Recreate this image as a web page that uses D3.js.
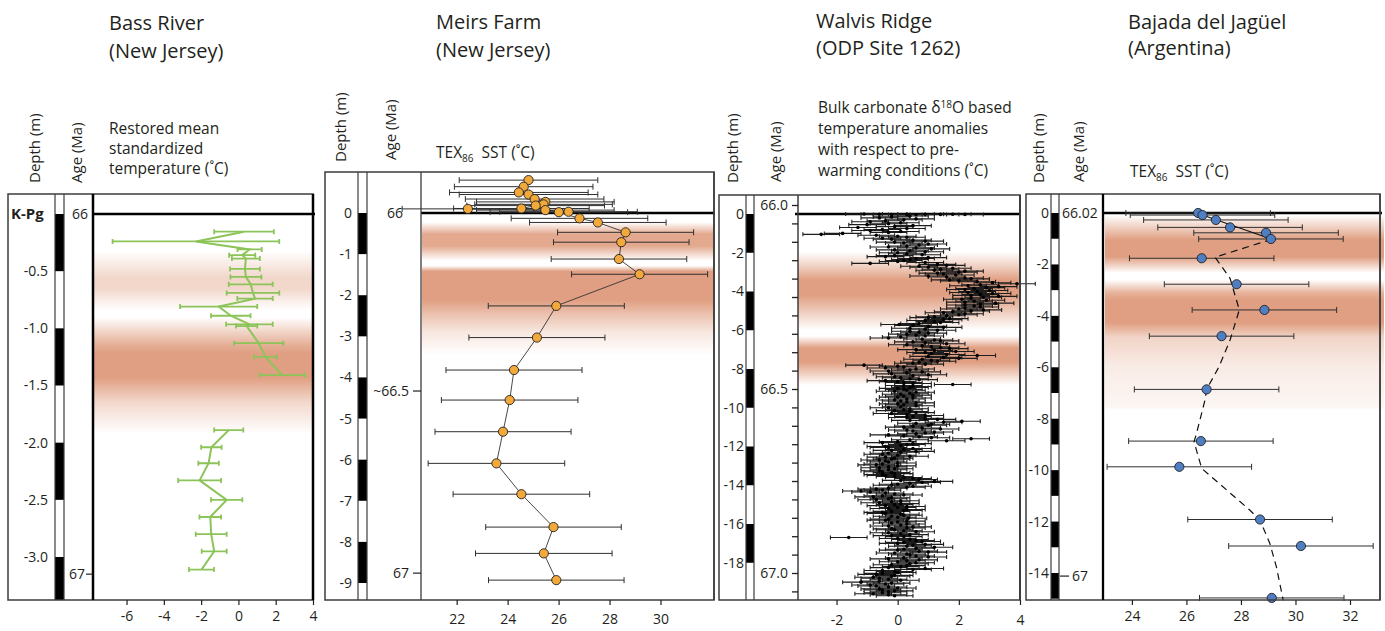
<!DOCTYPE html>
<html>
<head>
<meta charset="utf-8">
<script src="https://cdn.jsdelivr.net/npm/d3@7"></script>
<style>
  body { margin: 0; background: #fff; }
  svg text { font-family: "Open Sans", "DejaVu Sans", sans-serif; fill: #231f20; }
</style>
</head>
<body>
<svg id="chart" width="1385" height="631"></svg>
<script>
// ---------------- data ----------------

// Bass River (New Jersey)
const bassDepthTicks = [-0.5, -1.0, -1.5, -2.0, -2.5, -3.0];
const bassTempTicks = [-6, -4, -2, 0, 2, 4];
const bassAges = [[0, "66"], [-3.15, "67"]];
// [depth m, restored mean standardized temperature °C, ± error]
const bassUpper = [
  [-0.155, 0.3, 1.6], [-0.24, -2.28, 4.47], [-0.31, 0.6, 0.65], [-0.36, 0.2, 0.7],
  [-0.39, 0.4, 0.75], [-0.48, 0.35, 0.8], [-0.55, 0.4, 0.83], [-0.615, 0.66, 1.18],
  [-0.69, 0.78, 1.41], [-0.74, 0.89, 0.95], [-0.81, -1.06, 2.07], [-0.89, -0.41, 1.06],
  [-0.965, 0.59, 1.25], [-0.98, 0.44, 0.57], [-1.13, 1.09, 1.32], [-1.25, 1.45, 0.61],
  [-1.41, 2.35, 1.22]
];
const bassLower = [
  [-1.89, -0.52, 0.78], [-2.04, -1.45, 0.55], [-2.18, -1.6, 0.55], [-2.33, -2.08, 1.15],
  [-2.50, -0.63, 0.84], [-2.65, -1.51, 0.58], [-2.80, -1.46, 0.83], [-2.95, -1.3, 0.67],
  [-3.11, -1.98, 0.67]
];
// warming intervals as [depth, intensity] profiles
const bassBands = [
  [[-0.32, 0], [-0.56, 0.42], [-0.65, 0.42], [-0.84, 0]],
  [[-0.9, 0], [-1.15, 0.85], [-1.22, 1], [-1.43, 1], [-1.65, 0.4], [-1.92, 0]]
];

// Meirs Farm (New Jersey)
const meirsDepthTicks = [0, -1, -2, -3, -4, -5, -6, -7, -8, -9];
const meirsTempTicks = [22, 24, 26, 28, 30];
const meirsAges = [[0, "66"], [-4.33, "~66.5"], [-8.76, "67"]];
// [depth m, TEX86 SST °C, ± error]
const meirsSST = [
  [0.80, 24.82, 2.72], [0.64, 24.63, 2.72], [0.50, 24.44, 2.72], [0.45, 24.82, 2.72],
  [0.34, 25.06, 2.72], [0.27, 25.48, 2.7], [0.21, 25.41, 2.7], [0.18, 25.10, 2.7],
  [0.11, 24.54, 2.66], [0.10, 22.44, 2.58], [0.07, 25.48, 2.7], [0.02, 26.01, 2.7],
  [0.03, 26.39, 2.7], [-0.13, 26.82, 2.68], [-0.23, 27.54, 2.68], [-0.47, 28.63, 2.67],
  [-0.71, 28.46, 2.66], [-1.12, 28.37, 2.66], [-1.49, 29.18, 2.67], [-2.26, 25.91, 2.67],
  [-3.03, 25.15, 2.67], [-3.82, 24.25, 2.67], [-4.55, 24.08, 2.68], [-5.32, 23.82, 2.67],
  [-6.09, 23.56, 2.68], [-6.84, 24.54, 2.68], [-7.64, 25.80, 2.66], [-8.28, 25.42, 2.68],
  [-8.93, 25.91, 2.66]
];
const meirsBands = [
  [[-0.22, 0], [-0.52, 0.9], [-0.8, 0.9], [-1.16, 0]],
  [[-1.28, 0], [-1.42, 1], [-2.12, 1], [-2.45, 0.65], [-2.9, 0.25], [-3.45, 0]]
];

// Walvis Ridge (ODP Site 1262)
const walvisDepthTicks = [0, -2, -4, -6, -8, -10, -12, -14, -16, -18];
const walvisTempTicks = [-2, 0, 2, 4];
const walvisAgeLabels = [66.0, 66.5, 67.0];
const walvisErr = 0.6;
// [depth m, bulk carbonate δ18O temperature anomaly °C]
const walvisAnomaly = [
  [0, -1.1], [-0.01, -0.6], [-0.02, 0.3], [-0.01, 0.9], [-0.02, 1.4], [-0.01, 1.8], [-0.02, 2.2], [-0.03, -0.2], [-0.04, 0.6],
  [-0.1, 0.4], [-0.2, -0.6], [-0.3, 0.2], [-0.4, -0.9], [-0.5, -0.3], [-0.6, 0.5], [-0.7, -1.3], [-0.8, -0.5], [-0.9, 0.1],
  [-1.0, -1.8], [-1.05, -2.5], [-1.1, -0.7], [-1.2, 0.3], [-1.3, -0.2], [-1.4, 0.9], [-1.5, 0.2], [-1.6, 0.7], [-1.7, -0.3],
  [-1.8, 1.1], [-1.9, 0.4], [-2.0, 0.0], [-2.1, 0.8], [-2.2, -0.4], [-2.3, 0.6], [-2.4, 0.2], [-2.5, 0.9], [-2.55, -0.9],
  [-2.6, 1.3], [-2.7, 0.7], [-2.8, 1.8], [-2.9, 1.2], [-3.0, 2.0], [-3.1, 1.5], [-3.2, 1.0], [-3.3, 2.2], [-3.4, 1.7],
  [-3.5, 2.6], [-3.55, 3.1], [-3.6, 3.9], [-3.7, 2.3], [-3.8, 2.9], [-3.9, 2.2], [-4.0, 2.6], [-4.1, 3.1], [-4.2, 2.4],
  [-4.3, 2.8], [-4.4, 2.1], [-4.5, 2.5], [-4.6, 3.2], [-4.7, 2.2], [-4.8, 2.7], [-4.9, 2.0], [-5.0, 2.4],
  [-5.1, 1.5], [-5.2, 2.0], [-5.3, 1.2], [-5.4, 1.7], [-5.5, 0.9], [-5.6, 1.4], [-5.7, 0.05], [-5.8, 1.0], [-5.9, 0.4],
  [-6.0, 1.3], [-6.1, 0.7], [-6.2, 0.3], [-6.3, 0.9], [-6.4, -0.3], [-6.5, 1.2], [-6.6, 0.5], [-6.7, 1.6], [-6.8, 0.8],
  [-6.9, 1.4], [-7.0, 0.6], [-7.1, 1.9], [-7.2, 1.1], [-7.3, 2.6], [-7.4, 1.5], [-7.5, 0.8], [-7.6, 1.3], [-7.7, 0.5],
  [-7.8, -1.1], [-7.9, 0.2], [-8.0, 0.6], [-8.1, -0.3], [-8.2, 0.3], [-8.3, 1.0], [-8.4, -0.1], [-8.5, 0.4], [-8.6, -0.4],
  [-8.7, 0.2], [-8.8, 1.8], [-8.9, 0.5], [-9.0, 0.0], [-9.1, 0.3], [-9.2, 0.6], [-9.3, 0.1], [-9.4, 0.2], [-9.5, 0.5],
  [-9.6, -0.1], [-9.7, 0.3], [-9.8, 0.0], [-9.9, 0.6], [-10.0, -0.3], [-10.1, 0.2], [-10.2, 0.4], [-10.3, -0.2],
  [-10.4, 0.9], [-10.5, 0.3], [-10.6, 1.3], [-10.7, 2.1], [-10.8, 0.6], [-10.9, 1.0], [-11.0, 0.2], [-11.1, 1.4],
  [-11.2, 0.5], [-11.3, 0.9], [-11.4, -0.3], [-11.5, 0.7], [-11.6, 2.4], [-11.7, 1.6], [-11.8, -0.5], [-11.9, 0.3],
  [-12.0, -0.4], [-12.1, 0.5], [-12.2, -0.2], [-12.3, 0.1], [-12.4, -0.5], [-12.5, 0.4], [-12.6, -0.1], [-12.7, -0.6],
  [-12.8, -0.3], [-12.9, -0.5], [-13.0, 0.0], [-13.1, -0.6], [-13.2, -0.3], [-13.3, -0.5], [-13.4, -0.1], [-13.5, -0.4],
  [-13.6, 0.2], [-13.7, 0.7], [-13.8, 1.2], [-13.9, 0.4], [-14.0, -0.2], [-14.1, 0.3], [-14.2, -0.7], [-14.3, -1.2],
  [-14.4, -0.4], [-14.5, 0.2], [-14.6, -0.8], [-14.7, -0.3], [-14.8, 0.1], [-14.9, -0.6], [-15.0, -0.1], [-15.1, 0.3],
  [-15.2, -0.3], [-15.3, 0.2], [-15.4, -0.5], [-15.5, 0.1], [-15.6, -0.2], [-15.7, 0.35], [-15.8, -0.4], [-15.9, 0.0],
  [-16.0, 0.3], [-16.1, -0.3], [-16.2, 0.3], [-16.3, -0.1], [-16.4, 0.6], [-16.5, 0.1], [-16.6, -0.2], [-16.7, -1.6],
  [-16.8, 0.4], [-16.9, 0.8], [-17.0, 0.0], [-17.1, 0.5], [-17.2, 1.2], [-17.3, 0.2], [-17.4, 0.7], [-17.5, -0.1],
  [-17.6, 0.4], [-17.7, 1.0], [-17.8, -0.3], [-17.9, 0.3], [-18.0, 0.6], [-18.1, -0.2], [-18.2, 0.1], [-18.3, 0.9],
  [-18.4, -0.5], [-18.5, 0.0], [-18.6, -0.7], [-18.7, -0.2], [-18.8, -0.6], [-18.9, 0.1], [-19.0, -1.2], [-19.1, -0.4],
  [-19.2, -0.7], [-19.3, 0.0], [-19.4, -0.5], [-19.5, -0.3], [-19.6, -0.8], [-19.7, -0.1],
  // samples between the ones above
  [-0.15, -0.2], [-0.25, 0.6], [-0.35, -0.4], [-0.45, 0.1], [-0.55, -1.0], [-0.65, -0.1], [-0.75, 0.3], [-0.85, -0.9],
  [-0.95, -0.3], [-1.15, 0.0], [-1.25, -0.5], [-1.35, 0.5], [-1.45, -0.1], [-1.55, 1.0], [-1.65, 0.3], [-1.75, 0.6],
  [-1.85, -0.1], [-1.95, 0.9], [-2.05, 0.3], [-2.15, -0.1], [-2.25, 1.0], [-2.35, 0.4], [-2.45, 0.0], [-2.65, 1.6],
  [-2.75, 1.0], [-2.85, 1.4], [-2.95, 2.2], [-3.05, 1.3], [-3.15, 1.9], [-3.25, 1.6], [-3.35, 2.4], [-3.45, 2.0],
  [-3.65, 2.7], [-3.75, 3.3], [-3.85, 2.5], [-3.95, 3.0], [-4.05, 2.3], [-4.15, 2.7], [-4.25, 3.3], [-4.35, 2.4],
  [-4.45, 2.9], [-4.55, 2.2], [-4.65, 2.7], [-4.75, 2.5], [-4.85, 2.2], [-4.95, 2.8], [-5.05, 1.8], [-5.15, 2.2],
  [-5.25, 1.6], [-5.35, 1.0], [-5.45, 1.5], [-5.55, 1.2], [-5.65, 0.7], [-5.75, 0.5], [-5.85, 1.5], [-5.95, 0.9],
  [-6.05, 0.4], [-6.15, 1.0], [-6.25, 0.6], [-6.35, 0.1], [-6.45, 0.8], [-6.55, 1.4], [-6.65, 0.9], [-6.75, 0.3],
  [-6.85, 1.1], [-6.95, 1.7], [-7.05, 1.2], [-7.15, 0.9], [-7.25, 1.6], [-7.35, 1.0], [-7.45, 2.0], [-7.55, 1.1],
  [-7.65, 0.7], [-7.75, 0.9], [-7.85, 0.0], [-7.95, -0.4], [-8.05, 0.4], [-8.15, 0.8], [-8.25, -0.2], [-8.35, 0.5],
  [-8.45, 0.1], [-8.55, 0.7], [-8.65, 0.0], [-8.75, 0.5], [-8.85, 0.2], [-8.95, 0.4], [-9.05, 0.2], [-9.15, -0.1],
  [-9.25, 0.4], [-9.35, 0.5], [-9.45, 0.0], [-9.55, 0.3], [-9.65, 0.1], [-9.75, 0.6], [-9.85, 0.2], [-9.95, 0.1],
  [-10.05, 0.4], [-10.15, -0.1], [-10.25, 0.6], [-10.35, 0.3], [-10.45, 0.5], [-10.55, 0.9], [-10.65, 0.4], [-10.75, 1.5],
  [-10.85, 1.1], [-10.95, 0.5], [-11.05, 0.8], [-11.15, 0.3], [-11.25, 1.2], [-11.35, 0.6], [-11.45, 0.2], [-11.55, 1.1],
  [-11.65, 0.4], [-11.75, 0.0], [-11.85, 0.5], [-11.95, 0.1], [-12.05, -0.3], [-12.15, 0.2], [-12.25, 0.6], [-12.35, -0.3],
  [-12.45, 0.0], [-12.55, -0.4], [-12.65, -0.2], [-12.75, -0.4], [-12.85, 0.0], [-12.95, -0.7], [-13.05, -0.3], [-13.15, -0.1],
  [-13.25, -0.6], [-13.35, -0.2], [-13.45, -0.5], [-13.55, -0.1], [-13.65, 0.5], [-13.75, 0.1], [-13.85, 0.8], [-13.95, 0.0],
  [-14.05, 0.5], [-14.15, -0.3], [-14.25, -0.5], [-14.35, -0.9], [-14.45, -0.1], [-14.55, -0.5], [-14.65, -0.2], [-14.75, -0.7],
  [-14.85, -0.2], [-14.95, 0.1], [-15.05, -0.4], [-15.15, 0.0], [-15.25, 0.3], [-15.35, -0.2], [-15.45, -0.4], [-15.55, 0.2],
  [-15.65, 0.0], [-15.75, -0.3], [-15.85, 0.3], [-15.95, -0.2], [-16.05, 0.1], [-16.15, 0.5], [-16.25, -0.2], [-16.35, 0.2],
  [-16.45, -0.3], [-16.55, 0.4], [-16.65, 0.2], [-16.75, 0.0], [-16.85, 0.6], [-16.95, 0.2], [-17.05, 0.9], [-17.15, 0.3],
  [-17.25, 0.6], [-17.35, 0.0], [-17.45, 1.0], [-17.55, 0.3], [-17.65, 0.6], [-17.75, 0.2], [-17.85, 0.7], [-17.95, 0.0],
  [-18.05, 0.4], [-18.15, 0.3], [-18.25, -0.3], [-18.35, 0.5], [-18.45, -0.1], [-18.55, -0.5], [-18.65, -0.1], [-18.75, -0.8],
  [-18.85, -0.3], [-18.95, -0.6], [-19.05, -0.2], [-19.15, -0.9], [-19.25, -0.3], [-19.35, -0.6], [-19.45, -0.1], [-19.55, -0.5],
  [-19.65, -0.3]
];
const walvisBands = [
  [[-1.94, 0], [-2.72, 0.5], [-3.41, 1], [-4.18, 1], [-5.1, 0.5], [-5.99, 0]],
  [[-6.3, 0], [-6.92, 1], [-7.64, 1], [-8.83, 0]]
];

// Bajada del Jagüel (Argentina)
const bajadaDepthTicks = [0, -2, -4, -6, -8, -10, -12, -14];
const bajadaTempTicks = [24, 26, 28, 30, 32];
const bajadaAges = [[0, "66.02"], [-14.12, "67"]];
const bajadaErr = 2.65;
// [depth m, TEX86 SST °C]
const bajadaSST = [
  [0, 26.43], [-0.08, 26.59], [-0.27, 27.08], [-0.56, 27.6], [-0.77, 28.92], [-1.01, 29.1],
  [-1.76, 26.56], [-2.77, 27.84], [-3.77, 28.86], [-4.79, 27.29], [-6.86, 26.74], [-8.87, 26.53],
  [-9.87, 25.74], [-11.92, 28.7], [-12.95, 30.2], [-14.97, 29.13]
];
const bajadaTrendTop = [[-0.08, 26.59], [-1.02, 29.13]];
const bajadaTrend = [
  [-1.02, 29.13], [-1.72, 27.05], [-2.54, 27.6], [-3.77, 27.94], [-4.94, 27.6], [-5.97, 27.2],
  [-6.86, 26.74], [-7.28, 26.68], [-8.57, 26.37], [-8.9, 26.28], [-9.93, 26.56], [-11.56, 28.33],
  [-11.95, 28.7], [-12.85, 29.06], [-13.76, 29.3], [-15.06, 29.55]
];
const bajadaBands = [
  [[-0.08, 0], [-1.05, 1], [-1.7, 1], [-2.33, 0]],
  [[-2.6, 0], [-3.1, 0.8], [-3.38, 1], [-4.28, 1], [-4.82, 0.45], [-5.99, 0.2], [-7.55, 0.09], [-7.66, 0]]
];

// ---------------- drawing ----------------
const svg = d3.select("#chart");
const defs = svg.append("defs");
const ink = "#231f20";
const frameColor = "#3c3c3c";
const bandColor = "#e09f82";

function setupPanel(p) {
  const g = svg.append("g").attr("id", p.id);
  const x = d3.scaleLinear().domain(p.xDomain).range([p.plotL, p.right]);
  const y = d3.scaleLinear().domain(p.yDomain).range(p.yRange);
  return { g, x, y };
}

function drawBands(g, bands, x0, x1, y, id) {
  bands.forEach((band, i) => {
    const y0 = y(band[0][0]);
    const y1 = y(band[band.length - 1][0]);
    const grad = defs.append("linearGradient")
      .attr("id", `${id}-band${i}`)
      .attr("x1", 0).attr("x2", 0).attr("y1", 0).attr("y2", 1);
    band.forEach(([d, a]) => {
      grad.append("stop")
        .attr("offset", (y(d) - y0) / (y1 - y0))
        .attr("stop-color", bandColor)
        .attr("stop-opacity", a);
    });
    g.append("rect")
      .attr("x", x0).attr("y", y0)
      .attr("width", x1 - x0).attr("height", y1 - y0)
      .attr("fill", `url(#${id}-band${i})`);
  });
}

function errorBars(g, data, x, y, err, cap, color, width) {
  g.append("g").selectAll("path").data(data).join("path")
    .attr("d", d => {
      const e = d.length > 2 ? d[2] : err;
      const x0 = x(d[1] - e), x1 = x(d[1] + e), yy = y(d[0]);
      return `M${x0},${yy}H${x1}M${x0},${yy - cap}V${yy + cap}M${x1},${yy - cap}V${yy + cap}`;
    })
    .attr("fill", "none")
    .attr("stroke", color)
    .attr("stroke-width", width);
}

function drawFrame(g, p, y) {
  // depth scale bar: alternating black / white every magStep metres
  g.append("rect")
    .attr("x", p.magL).attr("y", p.top)
    .attr("width", p.magR - p.magL).attr("height", p.bottom - p.top)
    .attr("fill", "#fff");
  const bottomDepth = y.invert(p.bottom);
  for (let i = 0; -i * p.magStep > bottomDepth; i++) {
    if (i % 2) continue;
    const d = -i * p.magStep;
    g.append("rect")
      .attr("x", p.magL).attr("y", y(d))
      .attr("width", p.magR - p.magL)
      .attr("height", Math.min(y(d - p.magStep), p.bottom) - y(d))
      .attr("fill", "#000");
  }
  g.append("rect")
    .attr("x", p.left).attr("y", p.top)
    .attr("width", p.right - p.left).attr("height", p.bottom - p.top)
    .attr("fill", "none").attr("stroke", frameColor).attr("stroke-width", 1.5);
  [p.magL, p.magR].forEach(xv => {
    g.append("line").attr("x1", xv).attr("x2", xv).attr("y1", p.top).attr("y2", p.bottom)
      .attr("stroke", frameColor).attr("stroke-width", 1.2);
  });
  g.append("line").attr("x1", p.plotL).attr("x2", p.plotL).attr("y1", p.top).attr("y2", p.bottom)
    .attr("stroke", p.plotLineColor).attr("stroke-width", p.plotLineWidth);
  g.append("line").attr("x1", p.right).attr("x2", p.right).attr("y1", p.top).attr("y2", p.bottom)
    .attr("stroke", p.rightLineColor).attr("stroke-width", p.rightLineWidth);
}

function drawKPg(g, p, y) {
  g.append("line")
    .attr("x1", p.kpgL).attr("x2", p.kpgR)
    .attr("y1", y(0)).attr("y2", y(0))
    .attr("stroke", "#000").attr("stroke-width", 2.4);
}

function drawAxes(g, p, x, y, depthTicks, tempTicks, fmt) {
  const ax = g.append("g")
    .attr("transform", `translate(0,${p.bottom})`)
    .call(d3.axisBottom(x).tickValues(tempTicks).tickSize(5).tickPadding(p.xPad).tickFormat(d => String(d)));
  ax.select(".domain").remove();
  ax.attr("font-size", 14).attr("font-family", null);
  ax.selectAll("line").attr("stroke", ink).attr("stroke-width", 1.2);

  const ay = g.append("g")
    .attr("transform", `translate(${p.depthLabelX},0)`)
    .call(d3.axisLeft(y).tickValues(depthTicks).tickSize(0).tickPadding(0).tickFormat(fmt));
  ay.select(".domain").remove();
  ay.attr("font-size", 14).attr("font-family", null);
}

function headerText(lines, xPos, baselines, size) {
  lines.forEach((t, i) => {
    svg.append("text").attr("x", xPos).attr("y", baselines[i])
      .attr("font-size", size).text(t);
  });
}

function rotatedLabel(text, xPos, yPos) {
  svg.append("text")
    .attr("transform", `translate(${xPos},${yPos}) rotate(-90)`)
    .attr("font-size", 15).text(text);
}

function texLabel(xPos, yPos) {
  const t = svg.append("text").attr("x", xPos).attr("y", yPos).attr("font-size", 15.5);
  t.append("tspan").text("TEX");
  t.append("tspan").attr("font-size", 10).attr("dy", 4).text("86");
  t.append("tspan").attr("dy", -4).text("\u00a0 SST (˚C)");
}

// ---- panel 1: Bass River ----
{
  const p = {
    id: "bass", left: 8, magL: 55, magR: 64, plotL: 93, right: 313, top: 194, bottom: 600,
    xDomain: [-7.8, 4], yDomain: [0, -3], yRange: [214, 557], magStep: 0.5,
    plotLineColor: "#000", plotLineWidth: 2.5, rightLineColor: "#000", rightLineWidth: 2.5,
    kpgL: 93, kpgR: 315, xPad: 6, depthLabelX: 48
  };
  const { g, x, y } = setupPanel(p);
  drawBands(g, bassBands, p.plotL, p.right, y, p.id);
  drawKPg(g, p, y);
  const green = "#8cc45a";
  [bassUpper, bassLower].forEach(series => {
    errorBars(g, series, x, y, 0, 2.5, green, 1.8);
    g.append("path").datum(series)
      .attr("d", d3.line().x(d => x(d[1])).y(d => y(d[0])))
      .attr("fill", "none").attr("stroke", green).attr("stroke-width", 2);
  });
  drawFrame(g, p, y);
  drawAxes(g, p, x, y, bassDepthTicks, bassTempTicks, d => d.toFixed(1));
  g.append("text").attr("x", 11).attr("y", y(0) + 5).attr("font-size", 15)
    .attr("font-weight", "bold").text("K-Pg");
  bassAges.forEach(([d, label], i) => {
    g.append("text").attr("x", i === 0 ? 88 : 85).attr("y", y(d) + 5).attr("text-anchor", "end")
      .attr("font-size", 14).text(label);
    if (i > 0) {
      g.append("line").attr("x1", 86).attr("x2", 93).attr("y1", y(d)).attr("y2", y(d))
        .attr("stroke", ink).attr("stroke-width", 1.2);
    }
  });
  headerText(["Bass River", "(New Jersey)"], 109, [30, 58], 20);
  headerText(["Restored mean", "standardized", "temperature (˚C)"], 109, [134, 154, 174], 15.5);
  rotatedLabel("Depth (m)", 40, 183);
  rotatedLabel("Age (Ma)", 82, 183);
}

// ---- panel 2: Meirs Farm ----
{
  const p = {
    id: "meirs", left: 325, magL: 358, magR: 367, plotL: 421, right: 714, top: 172, bottom: 600,
    xDomain: [20.6, 32.1], yDomain: [0, -9], yRange: [213, 583], magStep: 1,
    plotLineColor: frameColor, plotLineWidth: 1.3, rightLineColor: frameColor, rightLineWidth: 1.5,
    kpgL: 421, kpgR: 715, xPad: 9, depthLabelX: 352
  };
  const { g, x, y } = setupPanel(p);
  drawBands(g, meirsBands, p.plotL + 1, p.right, y, p.id);
  drawKPg(g, p, y);
  errorBars(g, meirsSST, x, y, 0, 3, "#2f2f2f", 1);
  const ordered = meirsSST.slice().sort((a, b) => b[0] - a[0]);
  g.append("path").datum(ordered)
    .attr("d", d3.line().x(d => x(d[1])).y(d => y(d[0])))
    .attr("fill", "none").attr("stroke", "#333").attr("stroke-width", 0.9);
  g.append("g").selectAll("circle").data(meirsSST).join("circle")
    .attr("cx", d => x(d[1])).attr("cy", d => y(d[0])).attr("r", 4.6)
    .attr("fill", "#f2a93b").attr("stroke", ink).attr("stroke-width", 0.9);
  drawFrame(g, p, y);
  drawAxes(g, p, x, y, meirsDepthTicks, meirsTempTicks, d => String(d));
  meirsAges.forEach(([d, label], i) => {
    g.append("text").attr("x", i === 0 ? 403 : 409).attr("y", y(d) + 5).attr("text-anchor", "end")
      .attr("font-size", 14).text(label);
    if (i > 0) {
      g.append("line").attr("x1", 413).attr("x2", 421).attr("y1", y(d)).attr("y2", y(d))
        .attr("stroke", ink).attr("stroke-width", 1.2);
    }
  });
  headerText(["Meirs Farm", "(New Jersey)"], 436, [29, 57], 20);
  texLabel(436, 158);
  rotatedLabel("Depth (m)", 346, 162);
  rotatedLabel("Age (Ma)", 396, 160);
}

// ---- panel 3: Walvis Ridge ----
{
  const p = {
    id: "walvis", left: 719, magL: 746, magR: 754, plotL: 798, right: 1020, top: 195, bottom: 600,
    xDomain: [-3.26, 4], yDomain: [0, -16], yRange: [214, 524], magStep: 2,
    plotLineColor: frameColor, plotLineWidth: 1.5, rightLineColor: frameColor, rightLineWidth: 2,
    kpgL: 795, kpgR: 1020, xPad: 10, depthLabelX: 744
  };
  const { g, x, y } = setupPanel(p);
  drawBands(g, walvisBands, p.plotL, p.right, y, p.id);
  drawKPg(g, p, y);
  errorBars(g, walvisAnomaly, x, y, walvisErr, 2, "#1e1e1e", 1.1);
  g.append("g").selectAll("circle").data(walvisAnomaly).join("circle")
    .attr("cx", d => x(d[1])).attr("cy", d => y(d[0])).attr("r", 1.8)
    .attr("fill", "#000");
  drawFrame(g, p, y);
  drawAxes(g, p, x, y, walvisDepthTicks, walvisTempTicks, d => String(d));
  // age axis (Ma), minor ticks every 0.05 Myr
  const age = d3.scaleLinear().domain([66, 67]).range([205, 573]);
  const aa = g.append("g").attr("transform", `translate(${p.plotL},0)`)
    .call(d3.axisLeft(age).tickValues(d3.range(66, 67.06, 0.05)).tickSize(6).tickFormat(""));
  aa.select(".domain").remove();
  aa.selectAll("line").attr("stroke", ink).attr("stroke-width", 1.3);
  walvisAgeLabels.forEach(a => {
    g.append("text").attr("x", 788).attr("y", age(a) + 5).attr("text-anchor", "end")
      .attr("font-size", 14).text(a.toFixed(1));
  });
  headerText(["Walvis Ridge", "(ODP Site 1262)"], 816, [28, 55], 20);
  const t = svg.append("text").attr("x", 818).attr("y", 113).attr("font-size", 15.5);
  t.append("tspan").text("Bulk carbonate δ");
  t.append("tspan").attr("font-size", 10).attr("dy", -5).text("18");
  t.append("tspan").attr("dy", 5).text("O based");
  headerText(["temperature anomalies", "with respect to pre-", "warming conditions (˚C)"], 818, [134, 155, 176], 15.5);
  rotatedLabel("Depth (m)", 738, 183);
  rotatedLabel("Age (Ma)", 781, 182);
}

// ---- panel 4: Bajada del Jagüel ----
{
  const p = {
    id: "bajada", left: 1026, magL: 1051, magR: 1059, plotL: 1103, right: 1380, top: 194, bottom: 600,
    xDomain: [22.94, 33.1], yDomain: [0, -14], yRange: [213, 573], magStep: 1,
    plotLineColor: "#000", plotLineWidth: 2.3, rightLineColor: frameColor, rightLineWidth: 1.5,
    kpgL: 1103, kpgR: 1382, xPad: 6, depthLabelX: 1049
  };
  const { g, x, y } = setupPanel(p);
  drawBands(g, bajadaBands, p.plotL + 2, p.right + 4, y, p.id);
  drawKPg(g, p, y);
  errorBars(g, bajadaSST, x, y, bajadaErr, 3, "#2f2f2f", 1);
  const line = d3.line().x(d => x(d[1])).y(d => y(d[0]));
  g.append("path").datum(bajadaTrendTop).attr("d", line)
    .attr("fill", "none").attr("stroke", "#111").attr("stroke-width", 1.2);
  g.append("path").datum(bajadaTrend).attr("d", line)
    .attr("fill", "none").attr("stroke", "#111").attr("stroke-width", 1.2)
    .attr("stroke-dasharray", "7,5");
  g.append("g").selectAll("circle").data(bajadaSST).join("circle")
    .attr("cx", d => x(d[1])).attr("cy", d => y(d[0])).attr("r", 4.6)
    .attr("fill", "#4f7fc2").attr("stroke", ink).attr("stroke-width", 0.9);
  drawFrame(g, p, y);
  drawAxes(g, p, x, y, bajadaDepthTicks, bajadaTempTicks, d => String(d));
  g.append("text").attr("x", 1062).attr("y", y(bajadaAges[0][0]) + 5).attr("font-size", 14).text(bajadaAges[0][1]);
  g.append("line").attr("x1", 1060).attr("x2", 1069)
    .attr("y1", y(bajadaAges[1][0])).attr("y2", y(bajadaAges[1][0]))
    .attr("stroke", ink).attr("stroke-width", 1.2);
  g.append("text").attr("x", 1072).attr("y", y(bajadaAges[1][0]) + 5).attr("font-size", 14).text(bajadaAges[1][1]);
  headerText(["Bajada del Jagüel", "(Argentina)"], 1128, [29, 55], 20);
  texLabel(1130, 177);
  rotatedLabel("Depth (m)", 1044, 183);
  rotatedLabel("Age (Ma)", 1084, 182);
}
</script>
</body>
</html>
